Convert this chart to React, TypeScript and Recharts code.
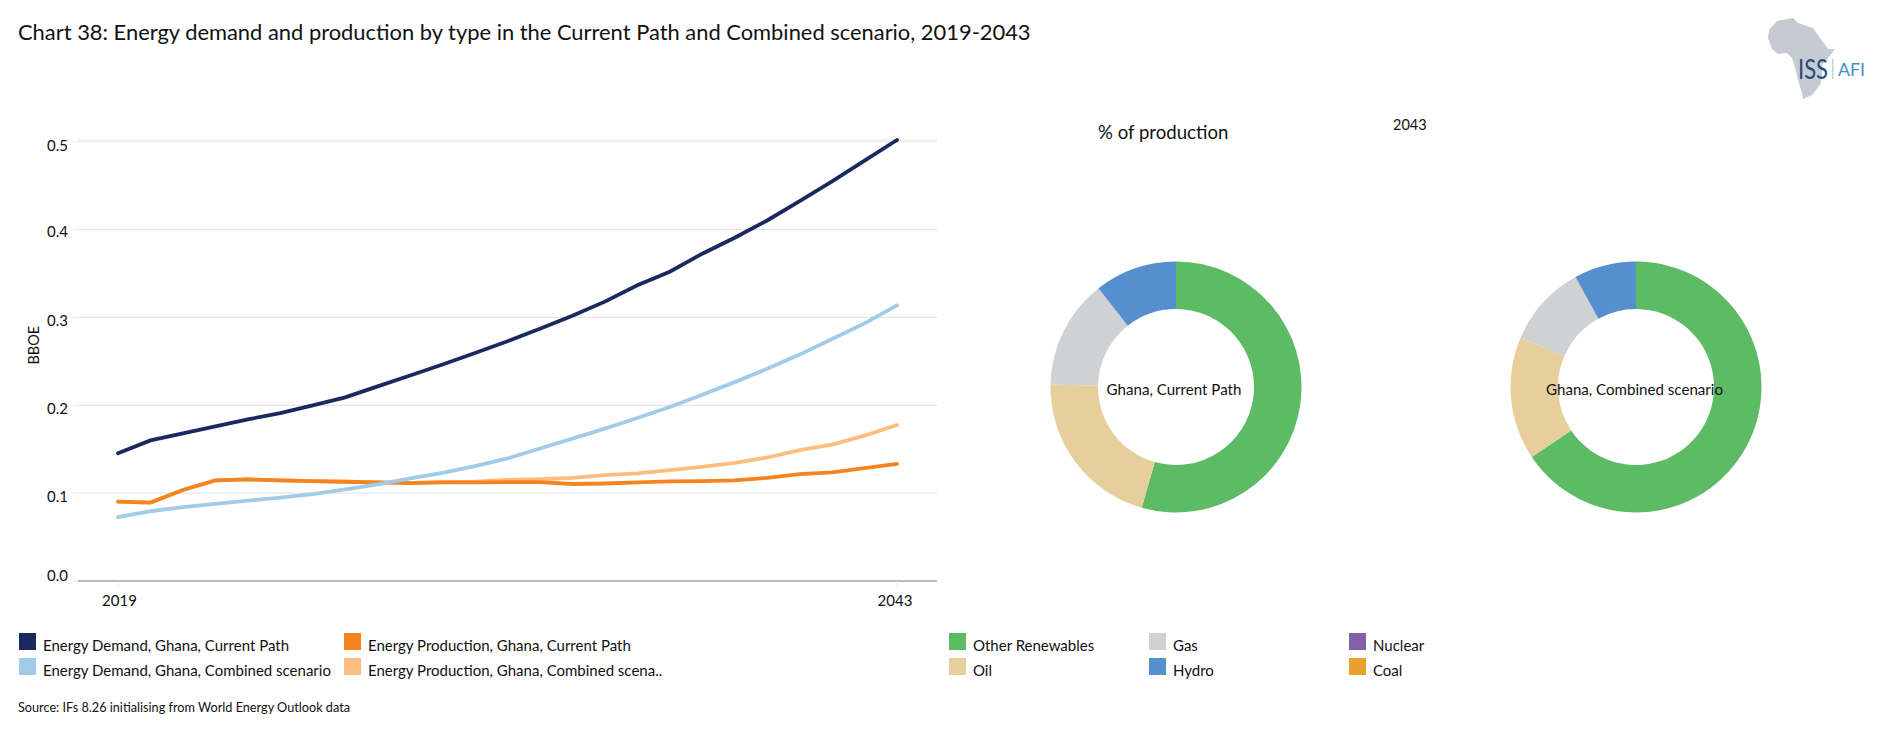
import { LineChart, Line, XAxis, YAxis, CartesianGrid, PieChart, Pie, Cell } from 'recharts';

const FONT = 'Lato, "Open Sans", sans-serif';

const years = [
  2019, 2020, 2021, 2022, 2023, 2024, 2025, 2026, 2027, 2028, 2029, 2030, 2031,
  2032, 2033, 2034, 2035, 2036, 2037, 2038, 2039, 2040, 2041, 2042, 2043,
];
const demandCurrent = [
  0.1455, 0.16, 0.168, 0.176, 0.184, 0.191, 0.2, 0.209, 0.2215, 0.234, 0.2465, 0.2595, 0.273,
  0.2872, 0.302, 0.318, 0.3367, 0.352, 0.3726, 0.3908, 0.4104, 0.4324, 0.455, 0.4785, 0.502,
];
const demandCombined = [
  0.0726, 0.0794, 0.084, 0.0877, 0.0915, 0.095, 0.099, 0.1043, 0.11, 0.1168, 0.123, 0.1308, 0.1395,
  0.1508, 0.162, 0.1735, 0.1856, 0.198, 0.212, 0.2264, 0.2415, 0.2577, 0.2755, 0.2933, 0.3137,
];
const productionCurrent = [
  0.0903, 0.0892, 0.1036, 0.1145, 0.1156, 0.1145, 0.1138, 0.113, 0.1122, 0.1115, 0.1122, 0.1122, 0.1126,
  0.1126, 0.1104, 0.111, 0.1122, 0.1134, 0.1138, 0.1145, 0.1175, 0.1217, 0.1236, 0.1285, 0.1334,
];
const productionCombined = [
  0.0903, 0.0892, 0.1036, 0.1145, 0.1156, 0.1145, 0.1138, 0.113, 0.1122, 0.1118, 0.1126, 0.113, 0.115,
  0.116, 0.1175, 0.1206, 0.1224, 0.1262, 0.13, 0.1345, 0.1406, 0.149, 0.1553, 0.1655, 0.1776,
];
const yTicks = [0, 0.1, 0.2, 0.3, 0.4, 0.5];
const xTicks = [2019, 2043];

const lineNames = [
  'Energy Demand, Ghana, Current Path',
  'Energy Demand, Ghana, Combined scenario',
  'Energy Production, Ghana, Current Path',
  'Energy Production, Ghana, Combined scena..',
];
const lineColors = ['#1B2A5E', '#A1CCE9', '#F58420', '#FFBD7D'];

const energyTypes = ['Other Renewables', 'Oil', 'Gas', 'Hydro', 'Nuclear', 'Coal'];
const sharesCurrent = [54.4, 20.9, 14.1, 10.6, 0, 0];
const sharesCombined = [65.6, 15.8, 10.6, 8.0, 0, 0];
const typeColors = ['#5CBB64', '#E6CF9A', '#D0D1D3', '#558FCE', '#8161A3', '#E9A12D'];

const lineData = years.map((year, i) => ({
  year,
  demandCurrent: demandCurrent[i],
  demandCombined: demandCombined[i],
  productionCurrent: productionCurrent[i],
  productionCombined: productionCombined[i],
}));

function Label({ x, y, size, children, center }: any) {
  return (
    <div
      style={{
        position: 'absolute',
        left: x,
        top: y,
        fontSize: size,
        lineHeight: 1,
        whiteSpace: 'nowrap',
        color: '#111',
        transform: center ? 'translate(-50%, -50%)' : 'translateY(-50%)',
      }}
    >
      {children}
    </div>
  );
}

function Swatch({ x, y, color }: any) {
  return <div style={{ position: 'absolute', left: x, top: y, width: 17, height: 17, background: color }} />;
}

// the y labels do not sit evenly on their gridlines in the original
const yLabelShift = (v: number) => (v === 0 ? -6 : v === 0.4 ? 1.5 : 3);

const YTick = ({ x, y, payload }: any) => (
  <text x={x} y={y + yLabelShift(payload.value)} textAnchor="end" dominantBaseline="central" fontSize={15} fill="#111">
    {payload.value.toFixed(1)}
  </text>
);

const XTick = ({ x, payload }: any) => (
  <text x={payload.value === 2043 ? x - 2 : x + 1.5} y={600} textAnchor="middle" dominantBaseline="central" fontSize={15} fill="#111">
    {payload.value}
  </text>
);

function Donut({ shares, cx, labelX, name }: any) {
  const data = energyTypes.map((type, i) => ({ type, value: shares[i] }));
  return (
    <>
      <div style={{ position: 'absolute', left: cx - 135, top: 386.5 - 135 }}>
        <PieChart width={270} height={270} margin={{ top: 0, right: 0, bottom: 0, left: 0 }}>
          <Pie
            data={data}
            dataKey="value"
            nameKey="type"
            cx={135}
            cy={135}
            innerRadius={78}
            outerRadius={125.5}
            startAngle={90}
            endAngle={-270}
            stroke="none"
            isAnimationActive={false}
          >
            {data.map((d, i) => (
              <Cell key={d.type} fill={typeColors[i]} />
            ))}
          </Pie>
        </PieChart>
      </div>
      <Label x={labelX} y={390} size={15.1} center>
        {name}
      </Label>
    </>
  );
}

const AFRICA =
  '1777,21 1793,18 1798,23 1813,28 1820,38 1828,49 1835,49 1828,58 1822,65 1822,77 1820,85 1812,95 1803,99 1802,93 1798,80 1795,67 1792,58 1787,53 1778,54 1772,49 1768,38 1769,30';

export default function App() {
  return (
    <div style={{ position: 'absolute', left: 0, top: 0, width: 1880, height: 739, background: '#fff', fontFamily: FONT, overflow: 'hidden' }}>
      <Label x={18} y={32} size={21.9}>
        Chart 38: Energy demand and production by type in the Current Path and Combined scenario, 2019-2043
      </Label>

      <svg width={1880} height={120} style={{ position: 'absolute', left: 0, top: 0 }}>
        <polygon points={AFRICA} fill="#C6CBD3" />
        <text x={1798} y={79} fontSize={27} fill="#1F4E79" textLength={30} lengthAdjust="spacingAndGlyphs" fontFamily="Lato">
          ISS
        </text>
        <rect x={1832} y={59} width={1.5} height={20} fill="#BFD8CF" />
        <text x={1838} y={76} fontSize={18} fill="#3F8FCB" textLength={27} lengthAdjust="spacingAndGlyphs" fontFamily="Lato">
          AFI
        </text>
      </svg>

      <div style={{ position: 'absolute', left: 0, top: 0 }}>
        <LineChart width={1000} height={640} data={lineData} margin={{ top: 140, right: 63, bottom: 29, left: 8 }}>
          <CartesianGrid horizontal vertical={false} stroke="#E6E6E6" strokeWidth={1.2} />
          <XAxis
            dataKey="year"
            type="number"
            domain={[2019, 2043]}
            ticks={xTicks}
            padding={{ left: 40, right: 40 }}
            height={30}
            stroke="#808080"
            tickLine={{ stroke: '#EEEEEE' }}
            tick={<XTick />}
          />
          <YAxis
            width={70}
            domain={[0, 0.5]}
            ticks={yTicks}
            axisLine={false}
            tickLine={{ stroke: '#EEEEEE' }}
            tickSize={6}
            tickMargin={4}
            tick={<YTick />}
            label={{ value: 'BBOE', angle: -90, position: 'insideLeft', dx: 21, dy: 4, fontSize: 14.5, fill: '#111' }}
          />
          <Line dataKey="demandCurrent" stroke={lineColors[0]} strokeWidth={3.8} dot={false} strokeLinecap="round" isAnimationActive={false} />
          <Line dataKey="productionCombined" stroke={lineColors[3]} strokeWidth={3.8} dot={false} strokeLinecap="round" isAnimationActive={false} />
          <Line dataKey="productionCurrent" stroke={lineColors[2]} strokeWidth={3.8} dot={false} strokeLinecap="round" isAnimationActive={false} />
          <Line dataKey="demandCombined" stroke={lineColors[1]} strokeWidth={3.8} dot={false} strokeLinecap="round" isAnimationActive={false} />
        </LineChart>
      </div>

      <Label x={1098} y={132} size={18.6}>% of production</Label>
      <Label x={1393} y={125} size={14.5}>2043</Label>

      <Donut shares={sharesCurrent} cx={1176} labelX={1174} name="Ghana, Current Path" />
      <Donut shares={sharesCombined} cx={1636} labelX={1634.5} name="Ghana, Combined scenario" />

      {lineNames.map((name, i) => {
        const col = i < 2 ? 0 : 1;
        const row = i % 2;
        return (
          <div key={name}>
            <Swatch x={col ? 344 : 19} y={633 + row * 25} color={lineColors[i]} />
            <Label x={col ? 368 : 43} y={645 + row * 25} size={15}>{name}</Label>
          </div>
        );
      })}

      {energyTypes.map((type, i) => {
        const col = Math.floor(i / 2);
        const row = i % 2;
        return (
          <div key={type}>
            <Swatch x={949 + col * 200} y={633 + row * 25} color={typeColors[i]} />
            <Label x={973 + col * 200} y={645 + row * 25} size={15}>{type}</Label>
          </div>
        );
      })}

      <Label x={18} y={707} size={12.7}>Source: IFs 8.26 initialising from World Energy Outlook data</Label>
    </div>
  );
}
